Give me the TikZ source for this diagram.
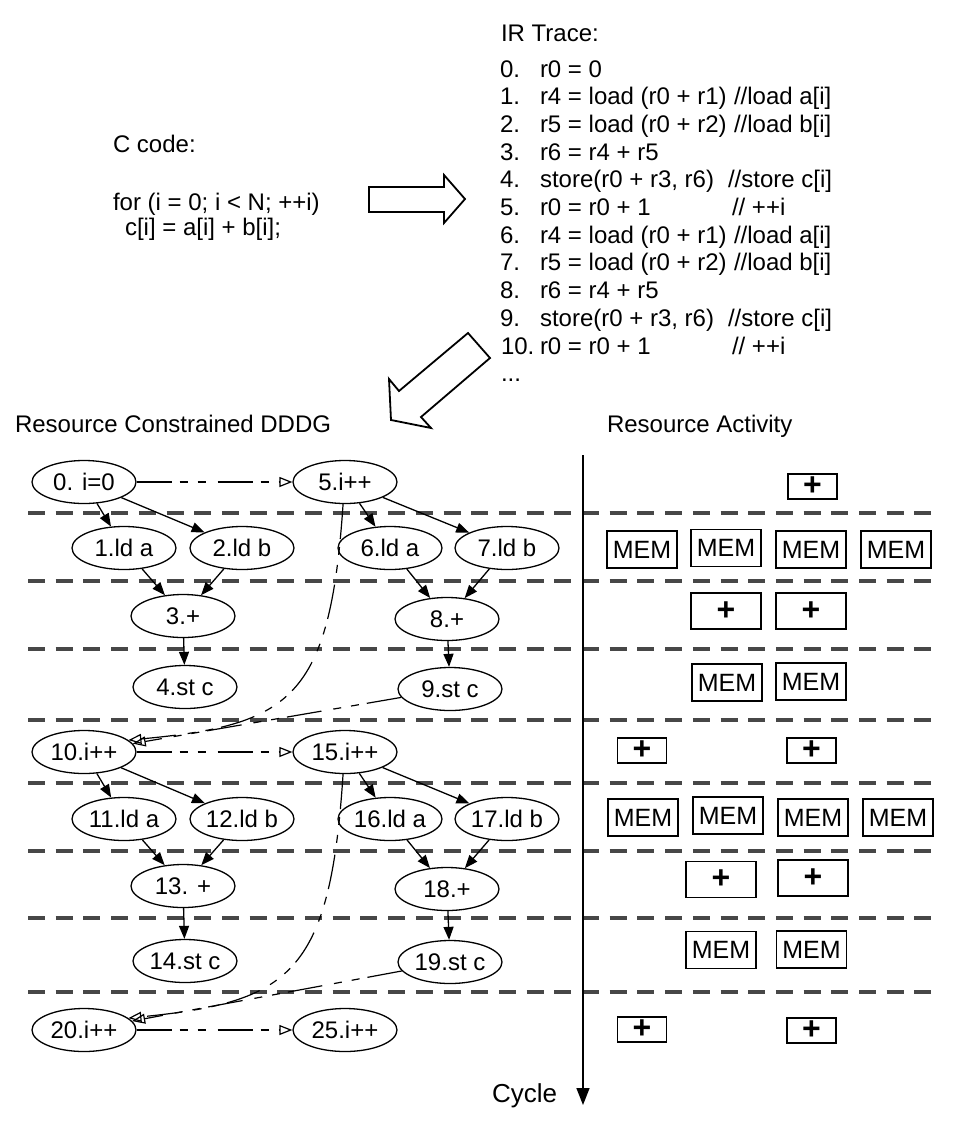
\documentclass[tikz,border=0pt]{standalone}
\usepackage{fontspec}
\setmainfont{Liberation Sans}
\usetikzlibrary{arrows.meta,shapes.geometric}
\begin{document}
\begin{tikzpicture}[x=1pt,y=-1pt,
  font=\fontsize{24}{28}\selectfont,
  txt/.style={anchor=base west, inner sep=0pt, outer sep=0pt},
  op/.style={ellipse, draw, line width=1.3pt, minimum width=104pt, minimum height=43pt, inner sep=0pt},
  mem/.style={draw, line width=1.8pt, minimum width=70pt, minimum height=37pt, inner sep=0pt, font=\fontsize{25}{28}\selectfont},
  plusS/.style={draw, line width=1.8pt, minimum width=49pt, minimum height=25pt, inner sep=0pt, font=\fontsize{32}{32}\selectfont\bfseries},
  plusL/.style={plusS, minimum width=70pt, minimum height=36pt},
  rowsep/.style={line width=4pt, draw=black!72, dash pattern=on 17pt off 10.7pt},
  solidedge/.style={line width=1.3pt, -{Triangle[length=13pt,width=10pt]}},
  ctledge/.style={line width=1.2pt, -{Triangle[open,length=13pt,width=10pt]}, dash pattern=on 35pt off 8pt on 8pt off 10pt on 8pt off 12pt},
  bigarrow/.style={draw, line width=1.8pt, fill=white, line join=miter}
]
\useasboundingbox (0,0) rectangle (957,1125);

% ---- C code ----
\node[txt] (ccode) at (113,152) {C code:};
\node[txt] (cfor) at (113,210) {for (i = 0; i < N; ++i)};
\node[txt] (cbody) at (125,235) {c[i] = a[i] + b[i];};

% ---- IR trace ----
\node[txt] (irt) at (501,41) {IR Trace:};
\node[txt] (k0) at (500,77.0) {0.};   \node[txt] (s0) at (540,77.0) {r0 = 0};
\node[txt] (k1) at (500,104.7) {1.};  \node[txt] (s1) at (540,104.7) {r4 = load (r0 + r1)}; \node[txt] (c1) at (734,104.7) {//load a[i]};
\node[txt] (k2) at (500,132.4) {2.};  \node[txt] (s2) at (540,132.4) {r5 = load (r0 + r2)}; \node[txt] (c2) at (734,132.4) {//load b[i]};
\node[txt] (k3) at (500,160.1) {3.};  \node[txt] (s3) at (540,160.1) {r6 = r4 + r5};
\node[txt] (k4) at (500,187.8) {4.};  \node[txt] (s4) at (540,187.8) {store(r0 + r3, r6)}; \node[txt] (c4) at (728,187.8) {//store c[i]};
\node[txt] (k5) at (500,215.5) {5.};  \node[txt] (s5) at (540,215.5) {r0 = r0 + 1}; \node[txt] (c5) at (732,215.5) {// ++i};
\node[txt] (k6) at (500,243.2) {6.};  \node[txt] (s6) at (540,243.2) {r4 = load (r0 + r1)}; \node[txt] (c6) at (734,243.2) {//load a[i]};
\node[txt] (k7) at (500,270.9) {7.};  \node[txt] (s7) at (540,270.9) {r5 = load (r0 + r2)}; \node[txt] (c7) at (734,270.9) {//load b[i]};
\node[txt] (k8) at (500,298.6) {8.};  \node[txt] (s8) at (540,298.6) {r6 = r4 + r5};
\node[txt] (k9) at (500,326.3) {9.};  \node[txt] (s9) at (540,326.3) {store(r0 + r3, r6)}; \node[txt] (c9) at (728,326.3) {//store c[i]};
\node[txt] (k10) at (501,354.0) {10.}; \node[txt] (s10) at (540,354.0) {r0 = r0 + 1}; \node[txt] (c10) at (732,354.0) {// ++i};
\node[txt] (dots) at (501,381.7) {...};

% ---- big arrows ----
\draw[bigarrow] (369,187) -- (444,187) -- (444,175) -- (465,199) -- (444,223) -- (444,212) -- (369,212) -- cycle;
\draw[bigarrow] (468,333) -- (399,391) -- (389,379) -- (391,420) -- (431,428) -- (421,417) -- (490,358) -- cycle;

% ---- titles ----
\node[txt] (tdddg) at (15,432) {Resource Constrained DDDG};
\node[txt] (tres) at (607,432) {Resource Activity};

% ---- separators ----
\foreach \yy in {513,581,649,720,783,851,918,992}
  \draw[rowsep] (28,\yy) -- (935,\yy);

% ---- cycle axis ----
\coordinate (axtop) at (583,455);
\coordinate (axbot) at (583,1105);
\draw[line width=1.5pt, -{Triangle[length=17pt,width=13pt]}] (axtop) -- (axbot);
\node[txt, font=\fontsize{26}{30}\selectfont] (cyc) at (492,1102) {Cycle};

% ---- DDDG nodes ----
\node[op] (n0) at (84,482) {0. i=0};
\node[op] (n5) at (345,482) {5.i++};
\node[op] (n1) at (124,548) {1.ld a};
\node[op] (n2) at (242,548) {2.ld b};
\node[op] (n6) at (390,548) {6.ld a};
\node[op] (n7) at (507,548) {7.ld b};
\node[op] (n3) at (183,616) {3.+};
\node[op] (n8) at (447,619) {8.+};
\node[op] (n4) at (185,687) {4.st c};
\node[op] (n9) at (450,689) {9.st c};
\node[op] (n10) at (84,752) {10.i++};
\node[op] (n15) at (345,752) {15.i++};
\node[op] (n11) at (124,819) {11.ld a};
\node[op] (n12) at (242,819) {12.ld b};
\node[op] (n16) at (390,819) {16.ld a};
\node[op] (n17) at (507,819) {17.ld b};
\node[op] (n13) at (183,886) {13. +};
\node[op] (n18) at (447,889) {18.+};
\node[op] (n14) at (185,961) {14.st c};
\node[op] (n19) at (450,962) {19.st c};
\node[op] (n20) at (84,1030) {20.i++};
\node[op] (n25) at (345,1030) {25.i++};

% ---- data edges ----
\foreach \a/\b in {n0/n1,n0/n2,n5/n6,n5/n7,n1/n3,n2/n3,n6/n8,n7/n8,n3/n4,n8/n9,
                   n10/n11,n10/n12,n15/n16,n15/n17,n11/n13,n12/n13,n16/n18,n17/n18,n13/n14,n18/n19}
  \draw[solidedge] (\a) -- (\b);

% ---- control edges ----
\draw[ctledge] (n0) -- (n5);
\draw[ctledge] (n10) -- (n15);
\draw[ctledge] (n20) -- (n25);
\draw[ctledge] (n5.265) .. controls (330,700) and (290,725) .. (n10.15);
\draw[ctledge] (n9) -- (n10);
\draw[ctledge] (n15.265) .. controls (330,975) and (290,1002) .. (n20.15);
\draw[ctledge] (n19) -- (n20);

% ---- resource activity ----
\node[plusS] (r1a) at (812.5,486.5) {+};
\node[mem] (r2a) at (642,549.5) {MEM};
\node[mem] (r2b) at (726,548) {MEM};
\node[mem] (r2c) at (811,549.5) {MEM};
\node[mem] (r2d) at (896,549.5) {MEM};
\node[plusL] (r3a) at (726,611) {+};
\node[plusL] (r3b) at (811,611) {+};
\node[mem] (r4a) at (727,682.5) {MEM};
\node[mem] (r4b) at (811,681.5) {MEM};
\node[plusS] (r5a) at (642,750.5) {+};
\node[plusS] (r5b) at (811.5,750.5) {+};
\node[mem] (r6a) at (643,817.5) {MEM};
\node[mem] (r6b) at (728,815.5) {MEM};
\node[mem] (r6c) at (813,817.5) {MEM};
\node[mem] (r6d) at (898,817.5) {MEM};
\node[plusL] (r7a) at (721,879.5) {+};
\node[plusL] (r7b) at (813,878) {+};
\node[mem] (r8a) at (721,950) {MEM};
\node[mem] (r8b) at (811.5,949.5) {MEM};
\node[plusS] (r9a) at (642,1029.5) {+};
\node[plusS] (r9b) at (811.5,1030.5) {+};
\end{tikzpicture}
\end{document}
